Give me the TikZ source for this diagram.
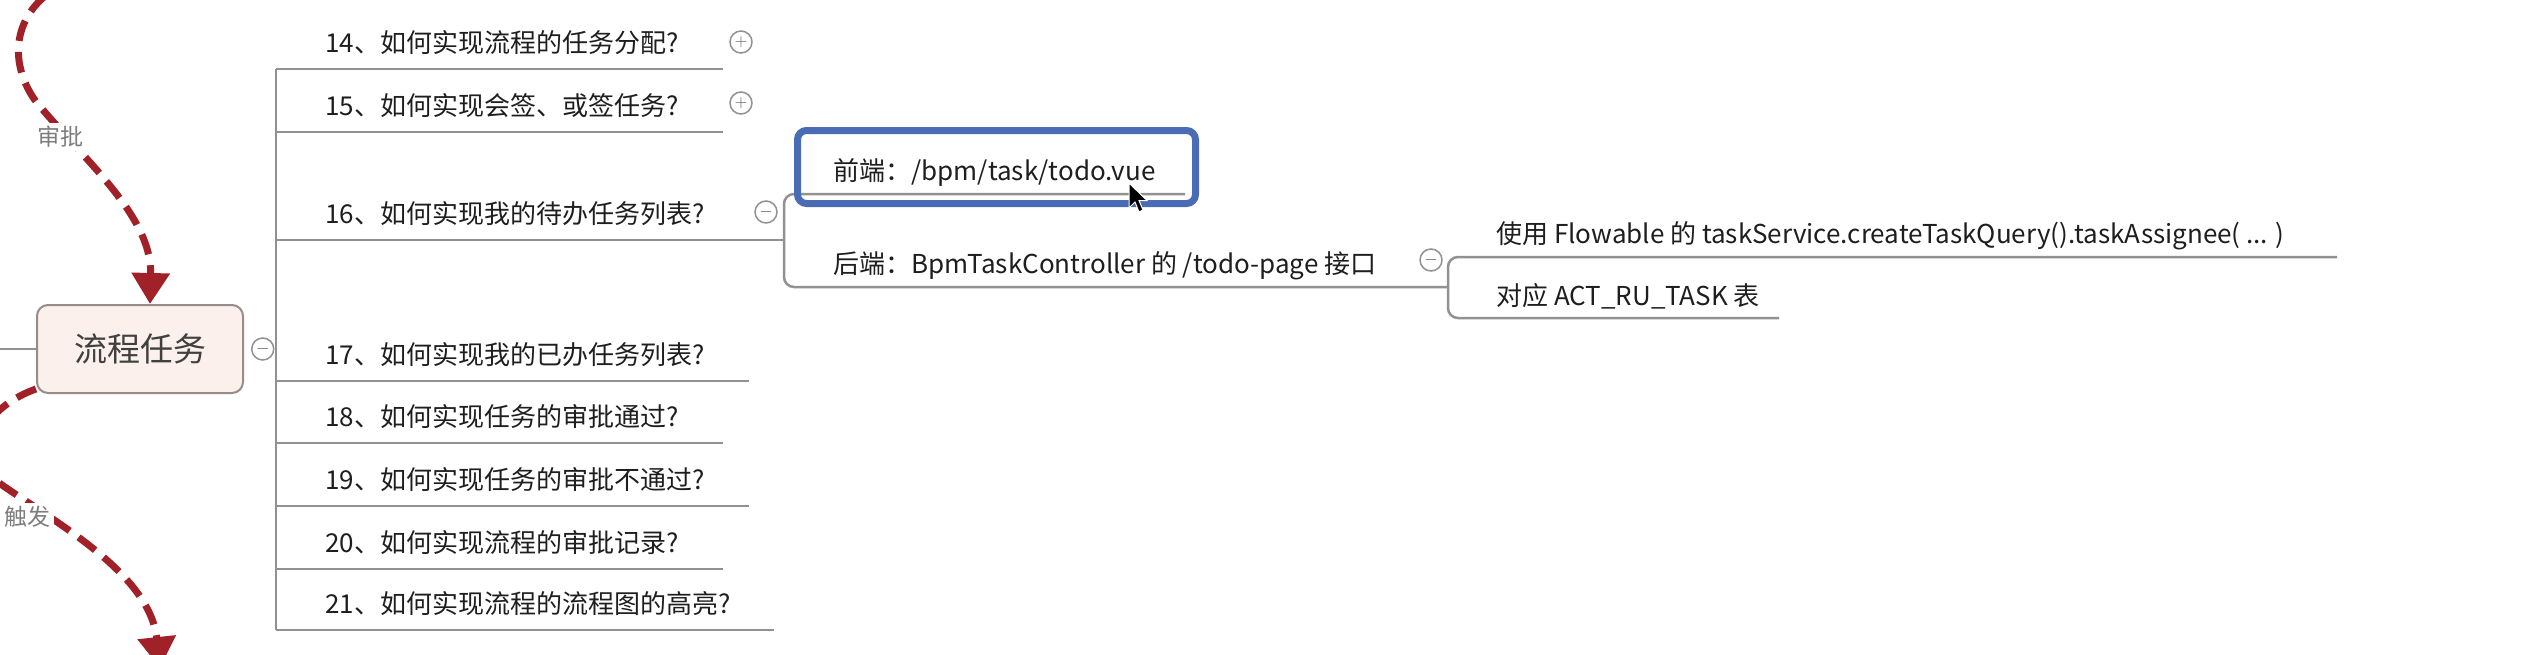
\documentclass[tikz,border=0pt]{standalone}
\usepackage{fontspec}
\setmainfont{Noto Sans CJK SC}
\usepackage{xcolor}
\usetikzlibrary{arrows.meta, positioning}
\definecolor{flowred}{RGB}{160,34,40}
\definecolor{linegray}{RGB}{145,145,145}
\definecolor{topicfill}{RGB}{251,240,235}
\definecolor{topicline}{RGB}{150,140,136}
\definecolor{hiblue}{RGB}{74,108,180}
\definecolor{inkgray}{RGB}{30,30,30}
\definecolor{labelgray}{RGB}{125,125,125}
\tikzset{
    topic/.style={
        rectangle,
        rounded corners=11pt,
        draw=topicline,
        line width=2pt,
        fill=topicfill,
        minimum width=206pt,
        minimum height=88pt,
        text=inkgray!85,
        font=\fontsize{33}{33}\selectfont
    },
    item/.style={
        anchor=base west,
        inner sep=0pt,
        text=inkgray,
        font=\fontsize{26}{26}\selectfont
    },
    fold/.style={
        circle,
        draw=linegray,
        line width=1.5pt,
        fill=white,
        minimum size=22pt,
        inner sep=0pt,
        text=inkgray!75,
        font=\fontsize{16}{16}\selectfont
    },
    branch/.style={
        draw=linegray,
        line width=2.5pt
    },
    flowarrow/.style={
        draw=flowred,
        line width=7pt,
        dash pattern=on 21pt off 11pt,
        -{Triangle[length=31pt,width=37pt]}
    },
    flowlabel/.style={
        fill=white,
        inner sep=3pt,
        text=labelgray,
        font=\fontsize{23}{23}\selectfont
    },
    highlight/.style={
        rectangle,
        draw=hiblue,
        line width=7pt,
        rounded corners=9pt
    }
}
\begin{document}
\begin{tikzpicture}[x=1pt, y=-1pt]
\useasboundingbox (0,0) rectangle (2528,654);
\clip (0,0) rectangle (2528,654);

% Centre topic
\node[topic] (task) at (140,349) {流程任务};
\node[fold, right=7pt of task] (taskfold) {$-$};
\coordinate (leftin) at (0,349);
\coordinate (trunktop) at (276,69);
\coordinate (trunkbot) at (276,630);
\draw[branch] (leftin) -- (task.west);
\draw[branch] (taskfold) -- (trunktop |- taskfold);
\draw[branch] (trunktop) -- (trunkbot);

% Flow arrows
\coordinate (approvesrc) at (45,-4);
\draw[flowarrow] (approvesrc) .. controls (5,30) and (15,80) .. (43,110) .. controls (95,170) and (152,220) .. ([xshift=10pt]task.north);
\node[flowlabel] (approvelbl) at (60,137) {审批};
\coordinate (triggerdst) at (160,668);
\draw[flowarrow] ([yshift=5pt]task.south west) .. controls (-10,405) and (-45,450) .. (2,485) .. controls (60,525) and (150,575) .. (triggerdst);
\node[flowlabel] (triggerlbl) at (28,517) {触发};

% Questions
\node[item] (q14) at (325,52) {14、如何实现流程的任务分配?};
\node[item] (q15) at (325,115) {15、如何实现会签、或签任务?};
\node[item] (q16) at (325,223) {16、如何实现我的待办任务列表?};
\node[item] (q17) at (325,364) {17、如何实现我的已办任务列表?};
\node[item] (q18) at (325,426) {18、如何实现任务的审批通过?};
\node[item] (q19) at (325,489) {19、如何实现任务的审批不通过?};
\node[item] (q20) at (325,552) {20、如何实现流程的审批记录?};
\node[item] (q21) at (325,613) {21、如何实现流程的流程图的高亮?};

\coordinate (q14end) at (723,69);
\coordinate (q15end) at (723,132);
\coordinate (q16end) at (784,240);
\coordinate (q17end) at (749,381);
\coordinate (q18end) at (723,443);
\coordinate (q19end) at (749,506);
\coordinate (q20end) at (723,569);
\coordinate (q21end) at (774,630);
\draw[branch] (trunktop |- q14end) -- (q14end);
\draw[branch] (trunktop |- q15end) -- (q15end);
\draw[branch] (trunktop |- q16end) -- (q16end);
\draw[branch] (trunktop |- q17end) -- (q17end);
\draw[branch] (trunktop |- q18end) -- (q18end);
\draw[branch] (trunktop |- q19end) -- (q19end);
\draw[branch] (trunktop |- q20end) -- (q20end);
\draw[branch] (trunktop |- q21end) -- (q21end);

\node[fold] (q14fold) at (741,42) {$+$};
\node[fold] (q15fold) at (741,103) {$+$};
\node[fold] (q16fold) at (766,212) {$-$};

% Todo list details
\coordinate (frontend) at (1185,194);
\coordinate (backendend) at (1448,287);
\draw[branch, rounded corners=10pt] (frontend) -| (q16end) |- (backendend);
\node[item] (front) at (833,180) {前端：/bpm/task/todo.vue};
\node[item] (back) at (833,273) {后端：BpmTaskController 的 /todo-page 接口};
\node[fold] (backfold) at (1431,260) {$-$};
\node[highlight, minimum width=398pt, minimum height=73pt] (frontsel) at (996.5,167) {};

\coordinate (queryend) at (2337,257);
\coordinate (tableend) at (1779,318);
\draw[branch, rounded corners=10pt] (queryend) -| (backendend) |- (tableend);
\node[item] (query) at (1496,243) {使用 Flowable 的 taskService.createTaskQuery().taskAssignee( ... )};
\node[item] (table) at (1496,305) {对应 ACT\_RU\_TASK 表};

% Mouse pointer
\draw[fill=black, draw=white, line width=1pt] (1129,183) -- ++(0,25) -- ++(6,-6) -- ++(4,10) -- ++(4,-2) -- ++(-4,-9.5) -- ++(8,0) -- cycle;

\end{tikzpicture}
\end{document}
